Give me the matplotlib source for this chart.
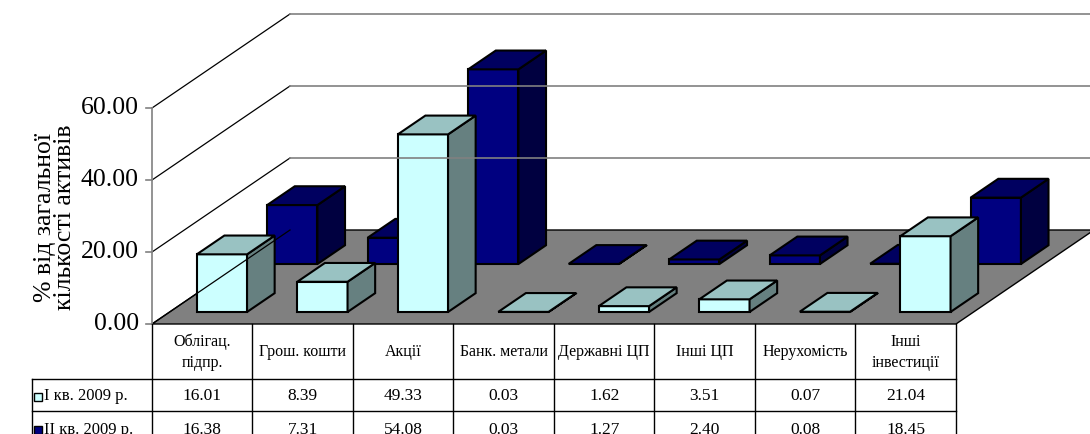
import matplotlib
matplotlib.use("Agg")
import matplotlib.pyplot as plt
from matplotlib.patches import Polygon

categories = ["Облігац.\nпідпр.", "Грош. кошти", "Акції", "Банк. метали",
              "Державні ЦП", "Інші ЦП", "Нерухомість", "Інші\nінвестиції"]
q1 = [16.01, 8.39, 49.33, 0.03, 1.62, 3.51, 0.07, 21.04]
q2 = [16.38, 7.31, 54.08, 0.03, 1.27, 2.40, 0.08, 18.45]
series_names = ["I кв. 2009 р.", "II кв. 2009 р."]
yticks = [0, 20, 40, 60]

W, H = 1090, 434
X0, SLOT = 152, 100.5      # px of category 0, px per category
Y0, PPU = 324, 3.6         # px of value 0, px per value unit
DX, DY = 138, 94           # depth offset of the back wall, px

dzx = DX / SLOT
dzy = DY / PPU


def px2x(p):
    return (p - X0) / SLOT


def px2y(p):
    return (Y0 - p) / PPU


def proj(x, v, z):
    return (x + z * dzx, v + z * dzy)


plt.rcParams['font.family'] = ['Liberation Serif', 'DejaVu Serif']
fig = plt.figure(figsize=(W / 100, H / 100), dpi=100)
ax = fig.add_axes([0, 0, 1, 1])
ax.set_xlim(px2x(0), px2x(W))
ax.set_ylim(px2y(H), px2y(0))
ax.axis('off')

n = len(categories)

# walls
for v in yticks:
    a = proj(0, v, 0)
    b = proj(0, v, 1)
    ax.plot([a[0], b[0]], [a[1], b[1]], color='black', lw=0.9)
    if v > 0:
        c = proj(n, v, 1)
        ax.plot([b[0], c[0] + 1], [b[1], c[1]], color='#808080', lw=1.2)
ax.plot([0, 0], [0, yticks[-1]], color='#808080', lw=1.2)
for v in yticks:
    ax.plot([px2x(X0 - 6), 0], [v, v], color='#808080', lw=1.2)
    ax.text(px2x(X0 - 13), v, f"{v:.2f}", ha='right', va='center', fontsize=18.5)

# floor
floor = [proj(0, 0, 0), proj(n, 0, 0), proj(n, 0, 1), proj(0, 0, 1)]
ax.add_patch(Polygon(floor, closed=True, facecolor='#808080', edgecolor='black', lw=1.0))

styles = [
    dict(vals=q1, z0=0.128, front='#CCFFFF', top='#99C2C2', side='#668080'),
    dict(vals=q2, z0=0.638, front='#000080', top='#000060', side='#000040'),
]


def draw_bar(i, h, z0, front, top, side, depth=0.2):
    x0, x1 = i + 0.27, i + 0.77
    z1 = z0 + depth
    faces = [
        ([proj(x0, 0, z0), proj(x1, 0, z0), proj(x1, h, z0), proj(x0, h, z0)], front),
        ([proj(x1, 0, z0), proj(x1, 0, z1), proj(x1, h, z1), proj(x1, h, z0)], side),
        ([proj(x0, h, z0), proj(x1, h, z0), proj(x1, h, z1), proj(x0, h, z1)], top),
    ]
    for pts, col in faces:
        ax.add_patch(Polygon(pts, closed=True, facecolor=col, edgecolor='black',
                             lw=1.5, joinstyle='miter'))


for st in reversed(styles):
    for i, h in enumerate(st['vals']):
        draw_bar(i, h, st['z0'], st['front'], st['top'], st['side'])

# data table
row_top = [324, 379, 411, 445]
left_px = 32
lc = dict(color='black', lw=1.0)
for j in range(n + 1):
    ax.plot([j, j], [0, px2y(H + 5)], **lc)
ax.plot([px2x(left_px), px2x(left_px)], [px2y(row_top[1]), px2y(H + 5)], **lc)
for r in row_top[1:3]:
    ax.plot([px2x(left_px), n], [px2y(r), px2y(r)], **lc)

for j, name in enumerate(categories):
    ax.text(j + 0.5, px2y((row_top[0] + row_top[1]) / 2 + 1), name, ha='center',
            va='center', fontsize=11.5, linespacing=1.4)
rows = [q1, q2]
for r, vals in enumerate(rows):
    yc = px2y((row_top[r + 1] + row_top[r + 2]) / 2 + 1.5)
    for j, v in enumerate(vals):
        ax.text(j + 0.5, yc, f"{v:.2f}", ha='center', va='center', fontsize=12.5)
    ax.plot([px2x(38.5)], [yc], marker='s', ms=5.5, mfc=styles[r]['front'],
            mec='black', mew=1.0, linestyle='none')
    ax.text(px2x(44), yc, series_names[r], ha='left', va='center', fontsize=12)

# axis title
ax.text(px2x(55), px2y(217), "% від загальної\nкількості активів", rotation=90,
        ha='center', va='center', fontsize=18.5, linespacing=0.88)

fig.savefig("out.png", dpi=100)
